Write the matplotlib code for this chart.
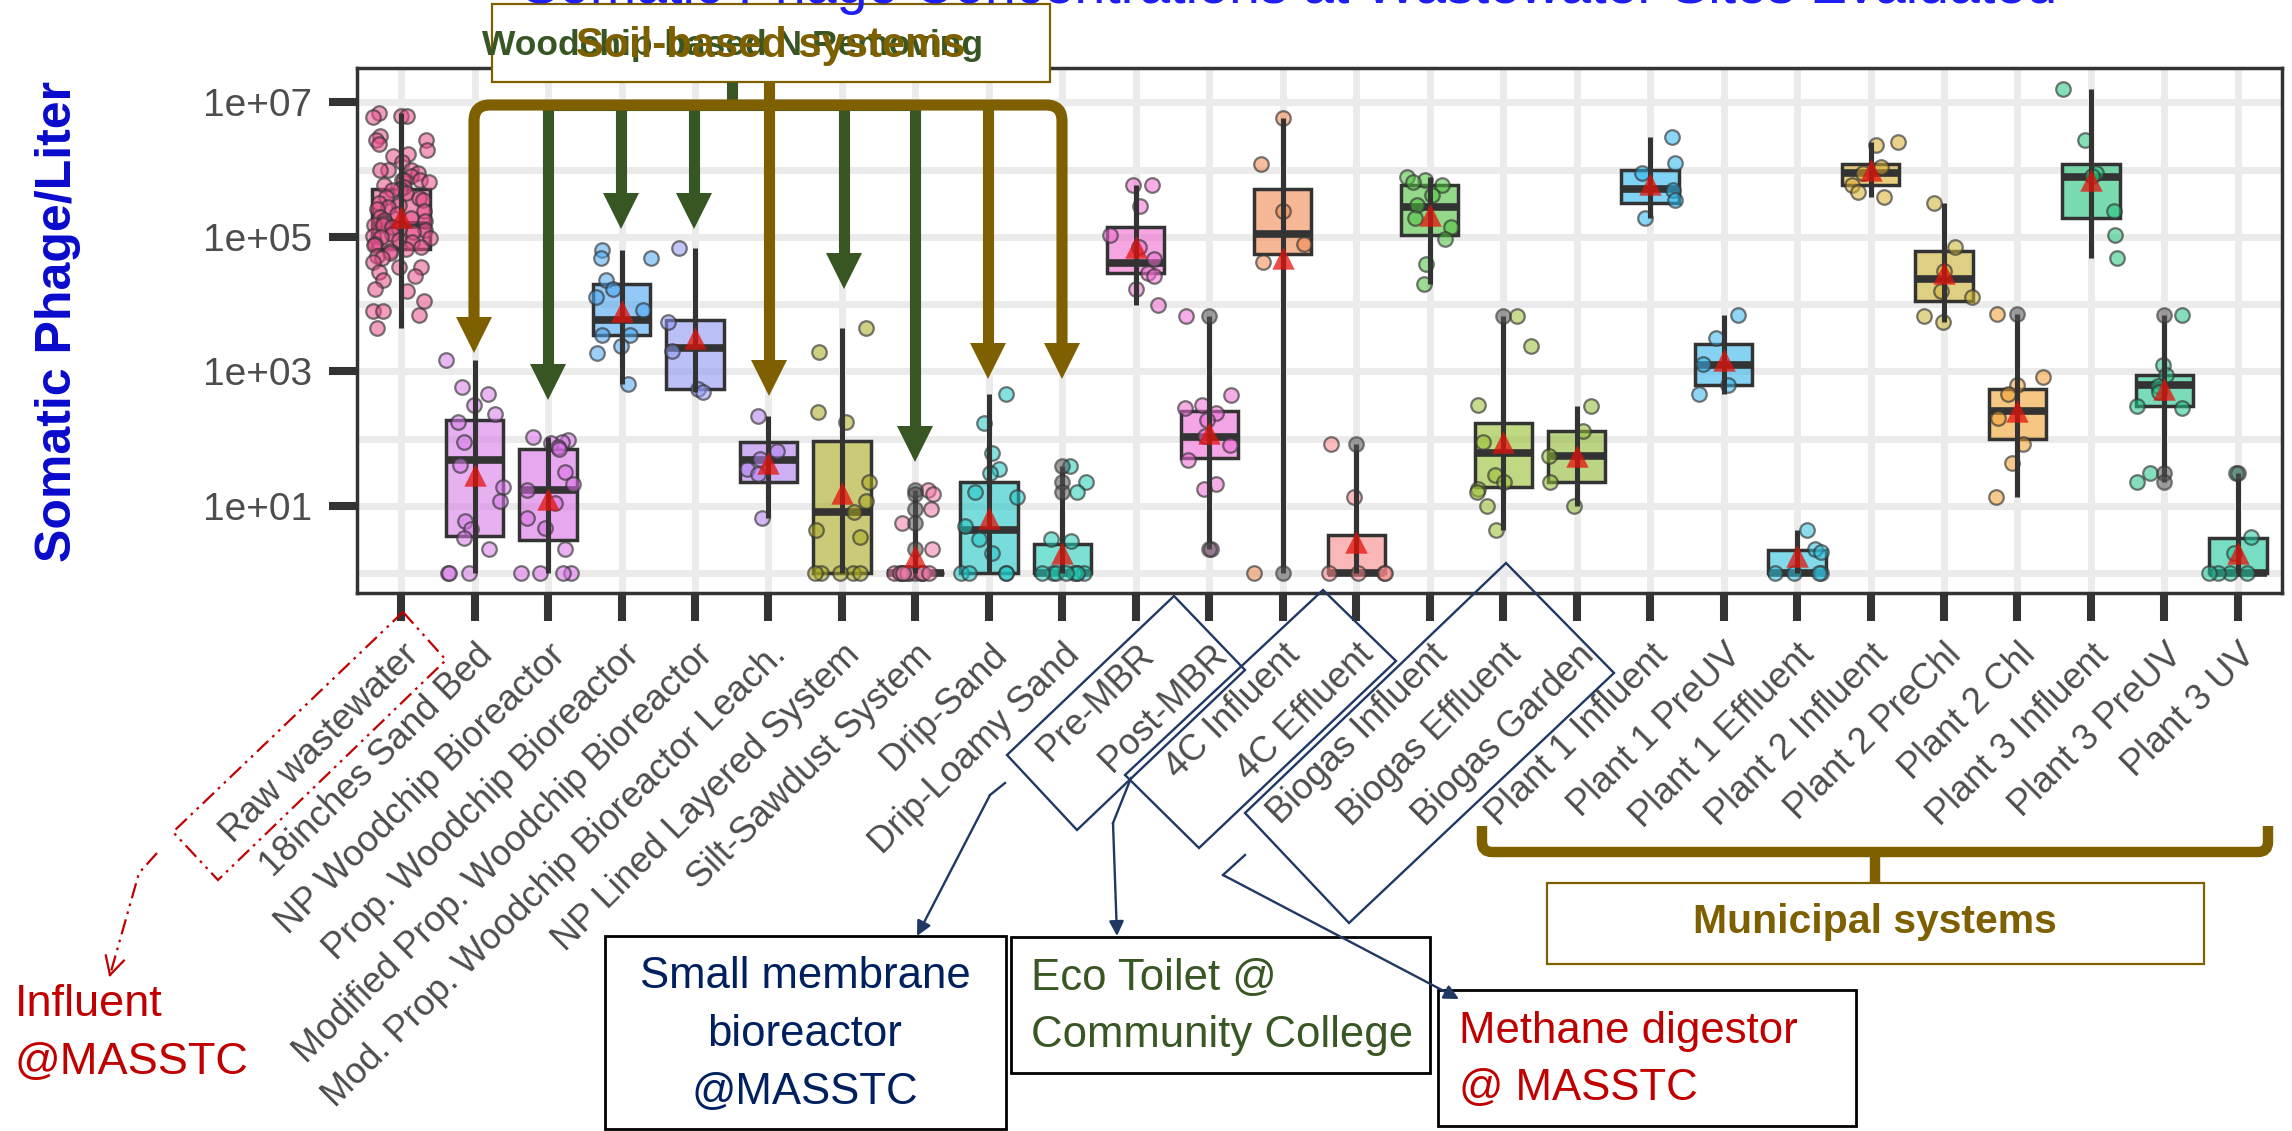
import numpy as np
import matplotlib.pyplot as plt
from matplotlib.colors import to_rgba
from matplotlib.patches import Rectangle, Polygon, PathPatch
from matplotlib.path import Path
from matplotlib.ticker import FixedLocator, NullFormatter

W, H = 2292, 1131

sites = ["Raw wastewater", "18inches Sand Bed", "NP Woodchip Bioreactor",
         "Prop. Woodchip Bioreactor", "Modified Prop. Woodchip Bioreactor",
         "Mod. Prop. Woodchip Bioreactor Leach.", "NP Lined Layered System",
         "Silt-Sawdust System", "Drip-Sand", "Drip-Loamy Sand", "Pre-MBR", "Post-MBR",
         "4C Influent", "4C Effluent", "Biogas Influent", "Biogas Effluent",
         "Biogas Garden", "Plant 1 Influent", "Plant 1 PreUV", "Plant 1 Effluent",
         "Plant 2 Influent", "Plant 2 PreChl", "Plant 2 Chl", "Plant 3 Influent",
         "Plant 3 PreUV", "Plant 3 UV"]

# box statistics (phage / L)
q1 = [6.6e4, 3.6, 3.1, 3500, 550, 23, 1, 1, 1, 1, 2.9e4, 52, 5.5e4, 1, 1.07e5, 19,
      23, 3.2e5, 620, 1, 5.9e5, 1.1e4, 100, 1.9e5, 310, 1]
med = [1.5e5, 49, 17, 5900, 2200, 49, 8, 1, 4.4, 1, 4.1e4, 107, 1.1e5, 1, 2.8e5, 62,
       55, 5.2e5, 1260, 1, 8.9e5, 2.4e4, 260, 7.9e5, 620, 1]
q3 = [5.2e5, 190, 71, 2.0e4, 5900, 89, 91, 1, 23, 2.7, 1.4e5, 260, 5.2e5, 3.7, 5.9e5,
      170, 130, 1.0e6, 2570, 2.2, 1.2e6, 6.2e4, 550, 1.2e6, 890, 3.3]
gmean = [2.0e5, 29, 12.6, 7900, 3100, 44, 15.5, 1.8, 6.6, 2.0, 7.0e4, 120, 4.9e4, 2.9,
         2.1e5, 89, 55, 6.2e5, 1500, 1.8, 1.0e6, 2.9e4, 260, 7.0e5, 550, 2.0]

raw_wastewater = [7.0e6, 6.3e6, 6.3e6, 6.0e6, 3.2e6, 2.8e6, 2.8e6, 2.4e6, 2.0e6, 1.7e6,
                  1.6e6, 1.3e6, 1.0e6, 1.0e6, 1.0e6, 9.0e5, 8.0e5, 7.1e5, 7.1e5, 7.1e5,
                  6.5e5, 6.0e5, 5.5e5, 5.2e5, 5.0e5, 4.5e5, 4.0e5, 3.8e5, 3.5e5, 3.2e5,
                  3.0e5, 2.8e5, 2.6e5, 2.4e5, 2.2e5, 2.0e5, 1.9e5, 1.8e5, 1.7e5, 1.6e5,
                  1.5e5, 1.5e5, 1.4e5, 1.3e5, 1.25e5, 1.2e5, 1.1e5, 1.05e5, 1.0e5, 9.5e4,
                  9.0e4, 8.5e4, 8.0e4, 7.5e4, 7.0e4, 6.6e4, 6.2e4, 5.8e4, 5.2e4, 4.8e4,
                  4.2e4, 3.6e4, 3.6e4, 3.0e4, 2.6e4, 2.3e4, 1.7e4, 1.6e4, 1.1e4, 8.0e3,
                  7.0e3, 8.0e3, 4.4e3]
sand_bed = [1500, 590, 460, 320, 230, 180, 90, 40, 19, 12, 6, 4.5, 3.3, 2.3, 1, 1, 1]
np_woodchip = [107, 95, 90, 85, 75, 70, 32, 21, 17, 11, 6.6, 4.7, 2.3, 1, 1, 1, 1]
prop_woodchip = [6.5e4, 4.8e4, 4.9e4, 2.3e4, 1.7e4, 1.26e4, 8.3e3, 3.5e3, 3.5e3, 2.4e3,
                 1.9e3, 660]
mod_woodchip = [6.8e4, 5500, 2000, 550, 490]
mod_leach = [215, 66, 50, 35, 30, 6.6]
np_lined = [4500, 1950, 250, 180, 23, 12, 8, 4.4, 3.5, 1, 1, 1, 1, 1]
silt_sawdust = [17, 15, 9, 5.5, 2.3, 1, 1, 1, 1, 1, 1, 1, 1, 1, 1, 1, 1]
drip_sand = [470, 170, 62, 35, 31, 16, 13.5, 5, 3.2, 2, 1, 1, 1, 1]
drip_loamy = [39, 23, 16, 3.2, 3.0, 1, 1, 1, 1, 1, 1, 1, 1]
pre_mbr = [5.9e5, 5.9e5, 2.9e5, 1.07e5, 7e4, 4.7e4, 2.9e4, 2.6e4, 1.7e4, 9800]
post_mbr = [6600, 440, 320, 290, 240, 190, 110, 80, 49, 21, 18, 2.3]
c4_influent = [5.9e6, 1.2e6, 2.4e5, 8e4, 4.2e4, 1]
c4_effluent = [83, 13.5, 1, 1, 1, 1]
biogas_influent = [7.9e5, 7e5, 6.6e5, 6e5, 4.2e5, 3e5, 1.9e5, 1.4e5, 9.3e4, 3.9e4, 2e4]
biogas_effluent = [6600, 2400, 320, 89, 29, 23, 18, 16, 10, 4.4]
biogas_garden = [310, 130, 55, 23, 10]
p1_influent = [3.1e6, 1.26e6, 9e5, 5e5, 3.5e5, 1.9e5]
p1_preuv = [6900, 3200, 1300, 620, 470]
p1_effluent = [4.4, 2.3, 2.1, 1, 1, 1, 1]
p2_influent = [2.6e6, 2.3e6, 1.1e6, 9e5, 6e5, 4.6e5, 3.9e5]
p2_prechl = [3.2e5, 7e4, 3.1e4, 1.6e4, 1.26e4, 6600, 5500]
p2_chl = [7200, 830, 620, 470, 200, 83, 44, 13.5]
p3_influent = [1.6e7, 2.8e6, 9e5, 8e5, 2.4e5, 1.07e5, 4.9e4]
p3_preuv = [6900, 1260, 890, 600, 490, 310, 290, 31, 23]
p3_uv = [31, 3.5, 2, 1, 1, 1, 1]

samples = [raw_wastewater, sand_bed, np_woodchip, prop_woodchip, mod_woodchip, mod_leach,
           np_lined, silt_sawdust, drip_sand, drip_loamy, pre_mbr, post_mbr, c4_influent,
           c4_effluent, biogas_influent, biogas_effluent, biogas_garden, p1_influent,
           p1_preuv, p1_effluent, p2_influent, p2_prechl, p2_chl, p3_influent, p3_preuv,
           p3_uv]

colors = ['#E8508C', '#D67CE8', '#D96FE6', '#4BA6F0', '#8E97F2', '#B07EEB', '#A8A820',
          '#F07AA8', '#1FC6C6', '#22CDB8', '#F06CD0', '#EE6AD6', '#F08850', '#F88888',
          '#4DC03C', '#98BE30', '#8FBA34', '#2BB6EE', '#35B4EC', '#2EC0DC', '#D9AE2E',
          '#CBB030', '#F0A030', '#22C47A', '#20C488', '#1FC89C']

dark = '#333333'
fig = plt.figure(figsize=(W / 100, H / 100), dpi=100)
ax = fig.add_axes([357 / W, 1 - 593 / H, (2282 - 357) / W, (593 - 68) / H])
pos = np.arange(len(sites))

ax.set_yscale('log')
ax.set_xlim(-0.6, len(sites) - 0.4)
ax.set_ylim(10 ** -0.294, 10 ** 7.513)

# boxes
stats = [dict(med=med[i], q1=q1[i], q3=q3[i], whislo=q1[i], whishi=q3[i], fliers=[])
         for i in range(len(sites))]
bp = ax.bxp(stats, positions=pos, widths=0.78, patch_artist=True, showcaps=False,
            showfliers=False, manage_ticks=False,
            boxprops=dict(linewidth=2.5, edgecolor=dark),
            medianprops=dict(color=dark, linewidth=5.5, solid_capstyle='butt'),
            whiskerprops=dict(linewidth=0))
for patch, c in zip(bp['boxes'], colors):
    patch.set_facecolor(to_rgba(c, 0.6))
    patch.set_zorder(2)
for m in bp['medians']:
    m.set_zorder(2.1)

# jittered samples, full range line, outliers and geometric means
rng = np.random.default_rng(11)
for i, vals in enumerate(samples):
    vals = np.array(vals, dtype=float)
    jit = rng.uniform(-0.4, 0.4, len(vals))
    ax.scatter(pos[i] + jit, vals, s=110, facecolors=[to_rgba(colors[i], 0.55)],
               edgecolors=[(0.2, 0.2, 0.2, 0.65)], linewidths=1.6, zorder=3)
    ax.vlines(pos[i], vals.min(), vals.max(), color=dark, linewidth=3.6, zorder=4)
    lq, uq = np.log10(q1[i]), np.log10(q3[i])
    iqr = uq - lq
    lv = np.log10(vals)
    out = vals[(lv < lq - 1.5 * iqr - 1e-9) | (lv > uq + 1.5 * iqr + 1e-9)]
    if len(out):
        ax.scatter(np.full(len(out), pos[i]), out, s=110,
                   facecolors=[(0.33, 0.33, 0.33, 0.55)],
                   edgecolors=[(0.2, 0.2, 0.2, 0.6)], linewidths=1.6, zorder=5)
ax.scatter(pos, gmean, marker='^', s=260, color=to_rgba('#E3120B', 0.75), linewidths=0,
           zorder=6)

# axes styling
ax.yaxis.set_major_locator(FixedLocator([1e1, 1e3, 1e5, 1e7]))
ax.set_yticklabels(['1e+01', '1e+03', '1e+05', '1e+07'])
ax.yaxis.set_minor_locator(FixedLocator([1e0, 1e2, 1e4, 1e6]))
ax.yaxis.set_minor_formatter(NullFormatter())
ax.set_xticks(pos)
ax.set_xticklabels(sites, rotation=45, ha='right', va='top', rotation_mode='anchor')
ax.tick_params(axis='both', which='major', length=20, width=5.8, color=dark,
               labelcolor='#4D4D4D')
ax.tick_params(axis='y', which='major', labelsize=28, pad=12)
ax.tick_params(axis='x', which='major', labelsize=26, pad=12)
ax.tick_params(axis='y', which='minor', length=0)
for lbl in ax.get_xticklabels() + ax.get_yticklabels():
    lbl.set_family('Liberation Sans')
ax.set_axisbelow(True)
ax.grid(which='major', axis='both', color='#EBEBEB', linewidth=5)
ax.grid(which='minor', axis='y', color='#EBEBEB', linewidth=5)
for sp in ax.spines.values():
    sp.set_linewidth(2.5)
    sp.set_color(dark)

fig.text(58 / W, 1 - 321 / H, 'Somatic Phage/Liter', rotation=90, ha='center',
         va='center', fontsize=36, fontweight='bold', color='#0A0ACD',
         family='Liberation Sans')

# annotation layer in pixel coordinates
ov = fig.add_axes([0, 0, 1, 1], zorder=5)
ov.set_xlim(0, W)
ov.set_ylim(H, 0)
ov.axis('off')

cal = 'Liberation Sans'
brown = '#7F6000'
green = '#375623'
navy = '#1F3864'
red = '#C00000'
fs = 31.5

ov.text(1290, 3, 'Somatic Phage Concentrations at Wastewater Sites Evaluated',
        ha='center', va='baseline', fontsize=40, color='#1E1EF0', family='Liberation Sans')

# grouping box for the decentralised systems
ov.add_patch(Rectangle((492, 4), 558, 78, facecolor='white', edgecolor=brown,
                       linewidth=1.6, zorder=1))
ov.text(733, 45, 'Woodchip-based N Removing', ha='center', va='center', fontsize=25.5,
        fontweight='bold', color=green, family=cal, zorder=2)
ov.text(771, 46, 'Soil-based systems', ha='center', va='center', fontsize=30,
        fontweight='bold', color=brown, family=cal, zorder=3)


def head(x, tip, color, z):
    ov.add_patch(Polygon([(x - 18, tip - 36), (x + 18, tip - 36), (x, tip)],
                         closed=True, facecolor=color, edgecolor='none', zorder=z))


lw_bar = 8
# woodchip arrows (green)
ov.plot([732, 732], [82, 105], color=green, linewidth=lw_bar, solid_capstyle='butt', zorder=2)
ov.plot([548, 915], [105, 105], color=green, linewidth=lw_bar, zorder=2)
for x, tip in [(548, 400), (621, 229), (694, 229), (844, 289), (915, 462)]:
    ov.plot([x, x], [105, tip - 34], color=green, linewidth=lw_bar, solid_capstyle='butt',
            zorder=2)
    head(x, tip, green, 2)

# soil arrows (brown)
verts = [(474, 320), (474, 121), (474, 105), (490, 105), (1046, 105), (1062, 105),
         (1062, 121), (1062, 345)]
codes = [Path.MOVETO, Path.LINETO, Path.CURVE3, Path.CURVE3, Path.LINETO, Path.CURVE3,
         Path.CURVE3, Path.LINETO]
ov.add_patch(PathPatch(Path(verts, codes), facecolor='none', edgecolor=brown,
                       linewidth=lw_bar, capstyle='butt', zorder=3))
ov.plot([769, 769], [82, 362], color=brown, linewidth=lw_bar, solid_capstyle='butt', zorder=3)
ov.plot([988, 988], [105, 345], color=brown, linewidth=lw_bar, solid_capstyle='butt', zorder=3)
for x, tip in [(474, 353), (769, 396), (988, 379), (1062, 379)]:
    head(x, tip, brown, 3)

# municipal bracket
verts = [(1482, 826), (1482, 842), (1482, 852), (1492, 852), (2258, 852), (2268, 852),
         (2268, 842), (2268, 826)]
ov.add_patch(PathPatch(Path(verts, codes), facecolor='none', edgecolor=brown,
                       linewidth=7.5, capstyle='butt', zorder=3))
ov.plot([1875, 1875], [852, 882], color=brown, linewidth=7.5, solid_capstyle='butt', zorder=3)
ov.add_patch(Rectangle((1547, 883), 657, 81, facecolor='white', edgecolor=brown,
                       linewidth=1.6, zorder=3))
ov.text(1875, 922, 'Municipal systems', ha='center', va='center', fontsize=29.5,
        fontweight='bold', color=brown, family=cal, zorder=4)

# outlined label groups
for corners in [[(1174, 596), (1245, 670), (1077, 830), (1007, 755)],
                [(1323, 590), (1396, 661), (1199, 848), (1125, 775)],
                [(1506, 563), (1614, 673), (1349, 923), (1245, 813)]]:
    ov.add_patch(Polygon(corners, closed=True, fill=False, edgecolor=navy, linewidth=1.7,
                         zorder=3))

for path in [[(1005, 783), (990, 795), (917, 936)],
             [(1131, 778), (1113, 823), (1117, 936)],
             [(1245, 855), (1223, 875), (1459, 999)]]:
    ov.plot([path[0][0], path[1][0]], [path[0][1], path[1][1]], color=navy, linewidth=1.7,
            zorder=3)
    ov.annotate('', xy=path[2], xytext=path[1],
                arrowprops=dict(arrowstyle='-|>', color=navy, linewidth=1.7,
                                mutation_scale=22, shrinkA=0, shrinkB=0), zorder=3)

# raw wastewater callout
dashdot = (0, (7, 2.5, 1.2, 2.5, 1.2, 2.5))
ov.add_patch(Polygon([(403, 612), (446, 660), (218, 880), (173, 832)], closed=True,
                     fill=False, edgecolor=red, linewidth=1.6, linestyle=dashdot, zorder=3))
ax_pts = [(157, 853), (139, 873), (110, 975)]
ov.plot([p[0] for p in ax_pts], [p[1] for p in ax_pts], color=red, linewidth=1.6,
        linestyle=dashdot, zorder=3)
d = np.array(ax_pts[2]) - np.array(ax_pts[1])
d = d / np.hypot(*d)
for ang in (np.radians(28), -np.radians(28)):
    rot = np.array([[np.cos(ang), -np.sin(ang)], [np.sin(ang), np.cos(ang)]])
    back = np.array(ax_pts[2]) - 20 * rot @ d
    ov.plot([ax_pts[2][0], back[0]], [ax_pts[2][1], back[1]], color=red, linewidth=1.6,
            zorder=3)

ov.text(15, 1005, 'Influent', ha='left', va='center', fontsize=fs + 1, color=red, family=cal)
ov.text(15, 1062, '@MASSTC', ha='left', va='center', fontsize=fs + 1, color=red, family=cal)

# site description boxes
ov.add_patch(Rectangle((605, 936), 401, 193, facecolor='white', edgecolor='black',
                       linewidth=2, zorder=2))
for txt, y in [('Small membrane', 977), ('bioreactor', 1035), ('@MASSTC', 1092)]:
    ov.text(805, y, txt, ha='center', va='center', fontsize=fs, color='#002060',
            family=cal, zorder=4)

ov.add_patch(Rectangle((1011, 937), 419, 136, facecolor='white', edgecolor='black',
                       linewidth=2, zorder=2))
for txt, y in [('Eco Toilet @', 978), ('Community College', 1035)]:
    ov.text(1031, y, txt, ha='left', va='center', fontsize=fs, color='#385723',
            family=cal, zorder=4)

ov.add_patch(Rectangle((1438, 990), 418, 136, facecolor='white', edgecolor='black',
                       linewidth=2, zorder=2))
for txt, y in [('Methane digestor', 1032), ('@ MASSTC', 1088)]:
    ov.text(1459, y, txt, ha='left', va='center', fontsize=fs, color=red, family=cal,
            zorder=4)

fig.savefig('out.png', dpi=100)
